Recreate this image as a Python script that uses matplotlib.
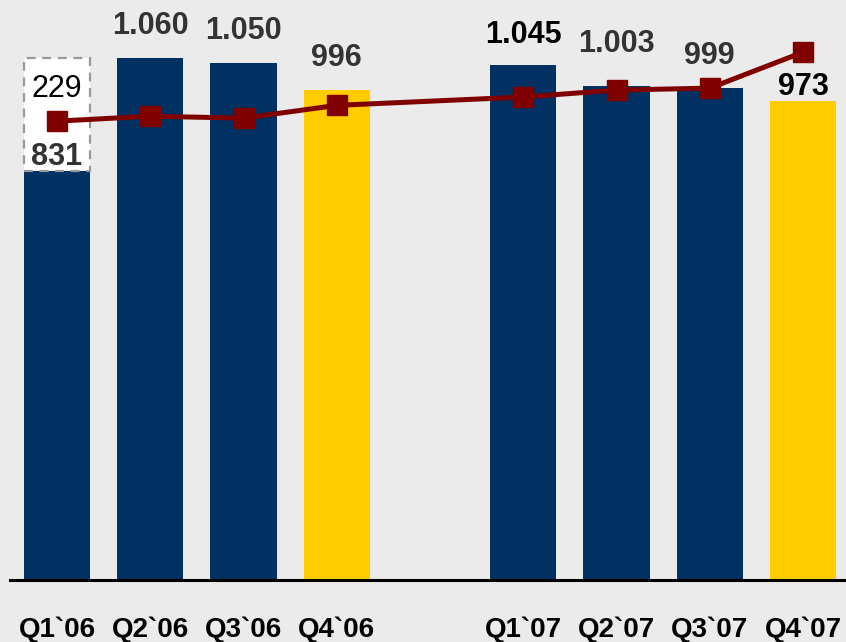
import matplotlib
matplotlib.use("Agg")
import matplotlib.pyplot as plt

BG = "#ebebeb"
NAVY = "#003162"
GOLD = "#ffcc00"
LINE = "#800000"
GREY_TXT = "#333333"

quarters = ["Q1`06", "Q2`06", "Q3`06", "Q4`06", "Q1`07", "Q2`07", "Q3`07", "Q4`07"]
positions = [0, 1, 2, 3, 5, 6, 7, 8]
bar_values = [831, 1060, 1050, 996, 1045, 1003, 999, 973]
extra_q1_06 = 229
line_values = [932, 942, 938, 964, 981, 995, 999, 1072]
bar_labels = ["831", "1.060", "1.050", "996", "1.045", "1.003", "999", "973"]

bar_colors = [NAVY, NAVY, NAVY, GOLD, NAVY, NAVY, NAVY, GOLD]
label_colors = [GREY_TXT, GREY_TXT, GREY_TXT, GREY_TXT, "black", GREY_TXT, GREY_TXT, "black"]
# vertical offset of each value label above its bar top, in points
label_offsets = [10, 23, 23, 23, 22, 30, 23, 10]

plt.rcParams["font.family"] = ["Liberation Sans", "DejaVu Sans"]

fig = plt.figure(figsize=(8.46, 6.42), dpi=100, facecolor=BG)
ax = fig.add_axes([10 / 846, 62 / 642, 836 / 846, 580 / 642])
ax.set_facecolor(BG)

ax.bar(positions, bar_values, width=0.708, color=bar_colors, zorder=2)
ax.bar(positions[0], extra_q1_06, bottom=bar_values[0], width=0.708,
       color="white", edgecolor="#9a9a9a", linestyle=(0, (4, 3)), linewidth=1.6, zorder=2)

ax.plot(positions, line_values, color=LINE, linewidth=3.6, marker="s",
        markersize=14, markerfacecolor=LINE, markeredgecolor=LINE, zorder=4)

for x, v, lab, col, off in zip(positions, bar_values, bar_labels, label_colors, label_offsets):
    ax.annotate(lab, (x, v), xytext=(0, off), textcoords="offset points",
                ha="center", va="center", fontsize=22, fontweight="bold",
                color=col, zorder=3)

ax.annotate(str(extra_q1_06), (positions[0], bar_values[0] + extra_q1_06),
            xytext=(0, -22), textcoords="offset points", ha="center", va="center",
            fontsize=22, color="black", zorder=3)

ax.set_xlim(-0.504, 8.461)
ax.set_ylim(0, 1178)
ax.set_yticks([])
ax.set_xticks(positions)
ax.set_xticklabels(quarters, fontsize=20, fontweight="bold", color="black")
ax.tick_params(axis="x", length=0, pad=26)

for side in ["top", "right", "left"]:
    ax.spines[side].set_visible(False)
ax.spines["bottom"].set_linewidth(2.2)
ax.spines["bottom"].set_color("black")

fig.savefig("out.png", dpi=100, facecolor=BG)
